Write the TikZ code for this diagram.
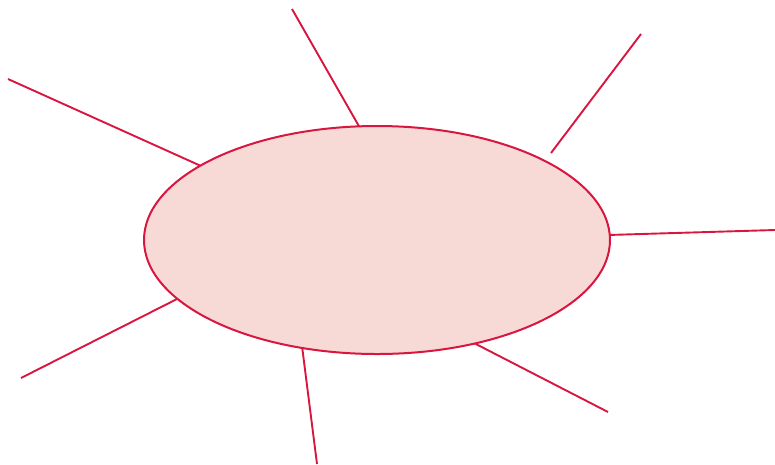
\documentclass[tikz,border=0pt]{standalone}
\usetikzlibrary{shapes.geometric}
\definecolor{edge}{HTML}{D8163F}
\definecolor{blob}{HTML}{F7DAD5}
\tikzset{
  spoke/.style={draw=edge, line width=1.9pt},
  hub/.style={ellipse, draw=edge, fill=blob, line width=2pt, minimum width=466pt, minimum height=228pt, inner sep=0pt}
}
\begin{document}
\begin{tikzpicture}[x=1pt,y=-1pt]
\useasboundingbox (0,0) rectangle (775,464);
\coordinate (o1) at (292,9);   \coordinate (i1) at (360,128);
\coordinate (o2) at (8,79);    \coordinate (i2) at (201,166);
\coordinate (o3) at (641,34);  \coordinate (i3) at (551,153);
\coordinate (o4) at (775,230); \coordinate (i4) at (608,235);
\coordinate (o5) at (21,378);  \coordinate (i5) at (179,298);
\coordinate (o6) at (317,464); \coordinate (i6) at (302,346);
\coordinate (o7) at (608,412); \coordinate (i7) at (472,342);
\foreach \k in {1,...,7} {\draw[spoke] (o\k) -- (i\k);}
\node[hub] (e) at (377,240) {};
\end{tikzpicture}
\end{document}
